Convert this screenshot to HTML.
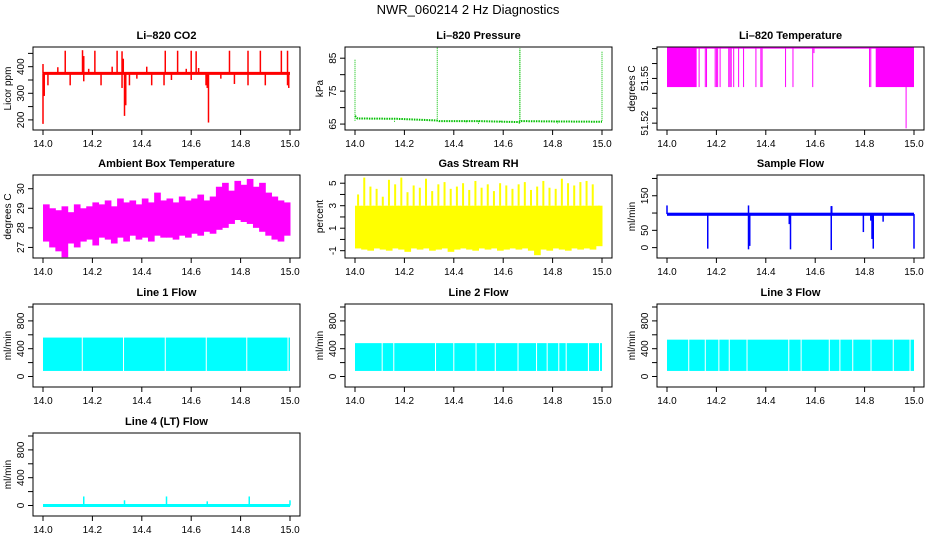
<!DOCTYPE html>
<html><head><meta charset="utf-8"><style>
html,body{margin:0;padding:0;background:#fff;}
svg{display:block;font-family:"Liberation Sans",sans-serif;}
</style></head><body>
<svg id="chart" width="936" height="540" viewBox="0 0 936 540" xmlns="http://www.w3.org/2000/svg">
<text x="468" y="14" text-anchor="middle" font-size="13">NWR_060214  2 Hz Diagnostics</text>
</svg>
<script>
// ---- data ----
const xTicks = [14.0,14.2,14.4,14.6,14.8,15.0];
const co2Base = 375;
const co2SpikeX = [14.0,14.09,14.16,14.165,14.21,14.28,14.30,14.32,14.325,14.42,14.495,14.545,14.60,14.62,14.63,14.755,14.83,14.88,14.965,14.99,14.06,14.185,14.58,
  14.0,14.005,14.02,14.11,14.165,14.235,14.32,14.33,14.335,14.35,14.44,14.49,14.52,14.6,14.66,14.665,14.67,14.775,14.83,14.9,14.99,14.995,14.72,14.38];
const co2SpikeVal = [410,460,462,440,460,400,460,458,430,400,460,460,460,458,395,460,460,460,460,460,398,392,392,
  185,290,330,330,345,330,320,215,255,330,330,330,350,350,330,320,190,335,330,330,330,320,355,355];
const presBaseX = [14.0,14.01,14.17,14.33,14.34,14.5,14.665,14.67,14.8,15.0];
const presBaseV = [67.5,66.7,66.6,66.1,65.9,65.9,65.6,65.9,65.8,65.7];
const presSpikeX = [14.0,14.333,14.667,14.668,15.0,14.16,14.45,14.5,14.59,14.665,14.82];
const presSpikeV = [84.6,88.3,88.0,88.0,87.2,65.4,65.3,65.0,65.4,65.0,65.2];
const tempHigh = 51.5705, tempLow = 51.5442;
const tempBandStart = [14.0,14.845];
const tempBandEnd = [14.12,15.0];
const tempDropX = [14.13,14.155,14.16,14.195,14.2,14.205,14.215,14.25,14.255,14.26,14.27,14.29,14.31,14.36,14.38,14.385,14.48,14.51,14.59,14.82,14.825,14.595,14.968];
const tempDropV = [51.5442,51.5442,51.5442,51.5442,51.5442,51.5442,51.5442,51.5442,51.5442,51.5442,51.5442,51.5442,51.5442,51.5442,51.5442,51.5442,51.5442,51.5442,51.5442,51.5442,51.5442,51.567,51.5165];
const ambHi = [29.2,29.0,28.9,29.1,28.8,29.2,29.0,29.1,29.3,29.2,29.4,29.1,29.5,29.3,29.4,29.2,29.5,29.3,29.8,29.4,29.5,29.3,29.6,29.4,29.5,29.7,29.4,29.6,30.1,30.3,29.9,30.4,30.2,30.5,30.1,30.3,29.8,29.6,29.4,29.3];
const ambLo = [27.3,27.0,26.8,26.5,27.2,27.0,27.3,27.4,27.1,27.5,27.4,27.2,27.5,27.3,27.6,27.4,27.5,27.3,27.6,27.5,27.5,27.4,27.6,27.5,27.7,27.6,27.8,27.7,27.9,28.0,28.2,28.4,28.3,28.2,28.0,27.8,27.6,27.4,27.3,27.6];
const rhHi = [4.0,5.5,4.7,4.5,3.8,5.3,4.9,5.5,4.2,4.8,4.6,5.4,4.3,4.9,5.1,4.5,4.7,5.0,4.4,5.2,4.6,4.9,4.3,5.0,4.8,4.5,4.9,5.1,4.4,4.7,5.2,4.6,4.5,5.4,5.0,4.8,5.1,5.2,4.9,2.2];
const rhLo = [-0.8,-0.9,-1.0,-0.8,-0.9,-1.0,-0.8,-0.9,-1.1,-0.8,-0.9,-0.8,-1.0,-0.9,-0.8,-1.1,-0.9,-0.8,-0.9,-1.0,-0.8,-0.9,-0.8,-1.0,-0.9,-0.8,-0.9,-0.8,-1.0,-1.4,-0.9,-1.0,-0.8,-0.9,-1.0,-0.8,-0.9,-0.8,-0.9,-0.6];
const rhCoreHi = 3.0;
const sfBandLo = 92, sfBandHi = 101;
const sfSpikeX = [14.165,14.33,14.335,14.5,14.665,14.835,14.83,15.0,14.795,14.875,14.825,14.495,14.0,14.33,14.665,14.667];
const sfSpikeV = [-3,-5,5,-5,-7,-3,25,-3,45,75,78,68,122,122,120,120];
const l1Lo = 80, l1Hi = 560;
const l1Gaps = [14.159,14.326,14.495,14.661,14.825,14.992];
const l2Lo = 80, l2Hi = 480;
const l2Gaps = [14.11,14.157,14.326,14.40,14.49,14.568,14.66,14.735,14.778,14.825,14.855,14.945,14.99];
const l3Lo = 80, l3Hi = 530;
const l3Gaps = [14.088,14.155,14.21,14.252,14.324,14.493,14.543,14.657,14.70,14.752,14.826,14.916,14.984];
const l4Base = 0;
const l4SpikeX = [14.165,14.33,14.5,14.665,14.835,15.0];
const l4SpikeV = [130,75,130,60,130,75];

// ---- layout ----
const NS = "http://www.w3.org/2000/svg";
const svg = document.getElementById('chart');
const colLeft = [33,345,657], rowTop = [47,175,304,433], BW = 267, BH = 83;
function mk(tag, attrs, parent){ const e=document.createElementNS(NS,tag); for(const k in attrs) e.setAttribute(k,attrs[k]); (parent||svg).appendChild(e); return e; }

function panel(col,row,name,title,ytitle,yMin,yMax,ticks,labels){
  const L=colLeft[col], T=rowTop[row];
  const g=mk('g',{});
  
  
  const P={g,L,T,
    x:v=>L+10+(v-14)*247,
    y:v=>T+(yMax-v)/(yMax-yMin)*BH};
  const plot=mk('g',{},g);
  
  
  P.plot=plot;
  setTimeout(()=>{
    const box=mk('rect',{x:L,y:T,width:BW,height:BH,fill:'none',stroke:'#000','stroke-width':1},g);
    
    
  },0);
  const tt=mk('text',{x:L+BW/2,y:T-8,'text-anchor':'middle','font-size':11,'font-weight':'bold'},g);
  tt.textContent=title;
  
  
  const yt=mk('text',{transform:`translate(${L-22},${T+BH/2}) rotate(-90)`,'text-anchor':'middle','font-size':10},g);
  yt.textContent=ytitle;
  
  
  ticks.forEach(t=>{ mk('line',{x1:L-5,x2:L,y1:P.y(t),y2:P.y(t),stroke:'#000'},g); });
  labels.forEach(t=>{
    const lb=mk('text',{transform:`translate(${L-9},${P.y(t)}) rotate(-90)`,'text-anchor':'middle','font-size':10},g);
    lb.textContent=String(t);
    
    
  });
  xTicks.forEach(t=>{
    mk('line',{x1:P.x(t),x2:P.x(t),y1:T+BH,y2:T+BH+5,stroke:'#000'},g);
    const lb=mk('text',{x:P.x(t),y:T+BH+17,'text-anchor':'middle','font-size':10},g);
    lb.textContent=t.toFixed(1);
    
    
  });
  return P;
}
function vline(P,x,v1,v2,color,w){ return mk('line',{x1:P.x(x),x2:P.x(x),y1:P.y(v1),y2:P.y(v2),stroke:color,'stroke-width':w||1},P.plot); }
function hline(P,x1,x2,v,color,w){ return mk('line',{x1:P.x(x1),x2:P.x(x2),y1:P.y(v),y2:P.y(v),stroke:color,'stroke-width':w||1},P.plot); }
function bins(P,lo,hi,color,name){
  const n=lo.length, dx=1/n;
  for(let i=0;i<n;i++){
    const r=mk('rect',{x:P.x(14+i*dx),y:P.y(hi[i]),width:P.x(14+(i+1)*dx)-P.x(14+i*dx)+0.5,height:P.y(lo[i])-P.y(hi[i]),fill:color},P.plot);
    
    
  }
}
function flowBand(P,lo,hi,gaps,name){
  const r=mk('rect',{x:P.x(14),y:P.y(hi),width:P.x(15)-P.x(14),height:P.y(lo)-P.y(hi),fill:'#00ffff'},P.plot);
  
  
  gaps.forEach(gx=>{
    const gl=mk('rect',{x:P.x(gx)-0.5,y:P.y(hi)-1,width:1,height:P.y(lo)-P.y(hi)+2,fill:'#fff'},P.plot);
    
    
  });
}

// CO2
let P=panel(0,0,'co2','Li\u2013820 CO2','Licor ppm',162,474,[200,250,300,350,400,450],[200,300,400]);
hline(P,14,15,co2Base,'#ff0000',3);
co2SpikeX.forEach((x,i)=>{ const s=vline(P,x,co2Base,co2SpikeVal[i],'#ff0000',1.5);
  
   });

// Pressure
P=panel(1,0,'pressure','Li\u2013820 Pressure','kPa',63.2,88.4,[65,70,75,80,85],[65,75,85]);
{ let pts=presBaseX.map((x,i)=>P.x(x)+','+P.y(presBaseV[i])).join(' ');
  const pl=mk('polyline',{points:pts,fill:'none',stroke:'#00c000','stroke-width':2,'stroke-dasharray':'1.5,1'},P.plot);
  
   }
presSpikeX.forEach((x,i)=>{ const s=vline(P,x,66,presSpikeV[i],'#00c000',1);
  s.setAttribute('stroke-dasharray','1,1');
  
   });

// Li-820 Temperature
P=panel(2,0,'li820-temp','Li\u2013820 Temperature','degrees C',51.5154,51.5711,[51.52,51.53,51.54,51.55,51.56,51.57],[51.52,51.55]);
hline(P,14,15,tempHigh,'#ff00ff',1.5);
tempBandStart.forEach((s,i)=>{ const r=mk('rect',{x:P.x(s),y:P.y(tempHigh),width:P.x(tempBandEnd[i])-P.x(s),height:P.y(tempLow)-P.y(tempHigh),fill:'#ff00ff'},P.plot);
  
   });
tempDropX.forEach((x,i)=>{ const s=vline(P,x,tempHigh,tempDropV[i],'#ff00ff',1);
  
   });

// Ambient
P=panel(0,1,'ambient-temp','Ambient Box Temperature','degrees C',26.46,30.7,[27,28,29,30],[27,28,29,30]);
bins(P,ambLo,ambHi,'#ff00ff','ambient-bin');

// RH
P=panel(1,1,'gas-rh','Gas Stream RH','percent',-1.65,5.73,[-1,0,1,2,3,4,5],[-1,1,3,5]);
bins(P,rhLo,rhLo.map(()=>rhCoreHi),'#ffff00','rh-core');
rhHi.forEach((h,i)=>{ const s=vline(P,14+(i+0.5)/rhHi.length,rhCoreHi,h,'#ffff00',2);
  
   });

// Sample flow
P=panel(2,1,'sample-flow','Sample Flow','ml/min',-30,210,[0,50,100,150,200],[0,50,150]);
{ const r=mk('rect',{x:P.x(14),y:P.y(sfBandHi),width:P.x(15)-P.x(14),height:P.y(sfBandLo)-P.y(sfBandHi),fill:'#0000ff'},P.plot);
  
   }
sfSpikeX.forEach((x,i)=>{ const s=vline(P,x,97,sfSpikeV[i],'#0000ff',1.5);
  
   });

// Line flows
const flowTicks=[0,200,400,600,800,1000], flowLabels=[0,400,800];
P=panel(0,2,'line1-flow','Line 1 Flow','ml/min',-151,1043,flowTicks,flowLabels);
flowBand(P,l1Lo,l1Hi,l1Gaps,'line1');
P=panel(1,2,'line2-flow','Line 2 Flow','ml/min',-151,1043,flowTicks,flowLabels);
flowBand(P,l2Lo,l2Hi,l2Gaps,'line2');
P=panel(2,2,'line3-flow','Line 3 Flow','ml/min',-151,1043,flowTicks,flowLabels);
flowBand(P,l3Lo,l3Hi,l3Gaps,'line3');
P=panel(0,3,'line4-flow','Line 4 (LT) Flow','ml/min',-151,1043,flowTicks,flowLabels);
hline(P,14,15,l4Base,'#00ffff',3);
l4SpikeX.forEach((x,i)=>{ const s=vline(P,x,l4Base,l4SpikeV[i],'#00ffff',1.5);
  
   });
</script>
</body></html>
